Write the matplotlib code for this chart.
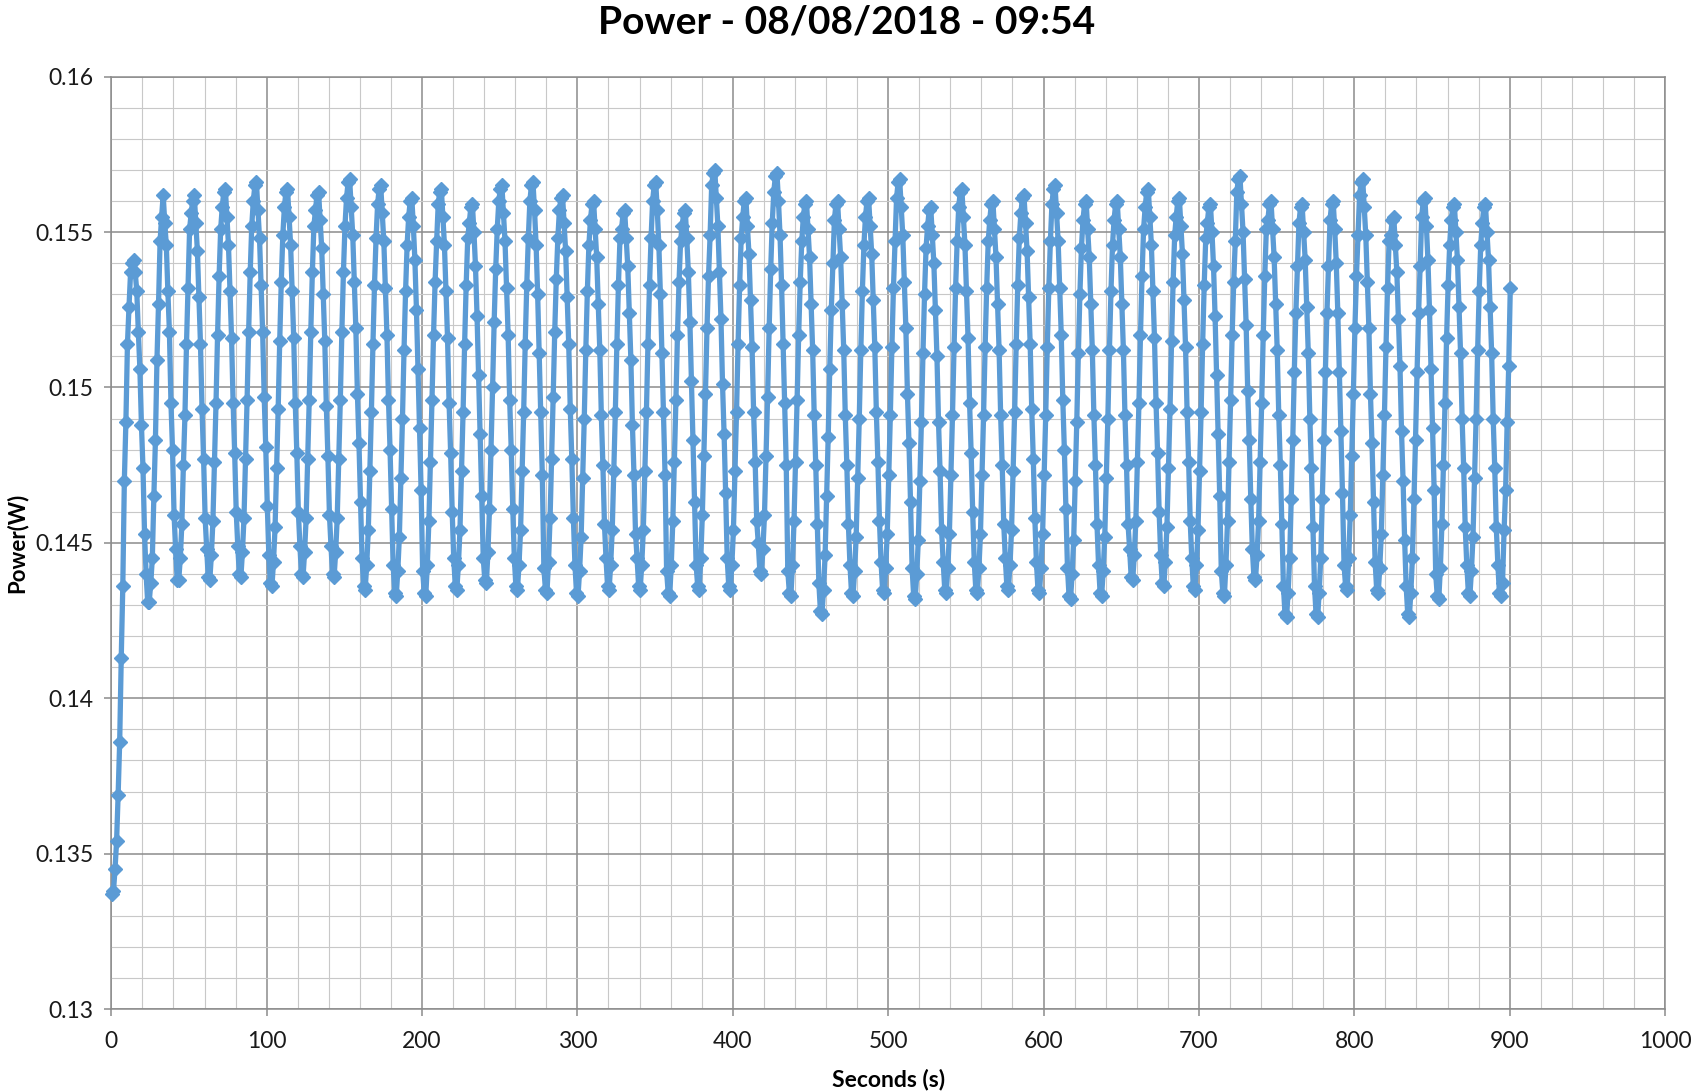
import numpy as np
import matplotlib
matplotlib.use("Agg")
import matplotlib.pyplot as plt
from matplotlib.ticker import MultipleLocator

# ---------------- text / axes data ----------------
title = "Power - 08/08/2018 - 09:54"
x_label = "Seconds (s)"
y_label = "Power(W)"
x_ticks = [0, 100, 200, 300, 400, 500, 600, 700, 800, 900, 1000]
y_ticks = [0.13, 0.135, 0.14, 0.145, 0.15, 0.155, 0.16]
y_tick_labels = ["0.13", "0.135", "0.14", "0.145", "0.15", "0.155", "0.16"]

# sampling of the logger (seconds)
first_sample_s = 0.4
sample_step_s = 1.0

# ---------------- power readings (W) ----------------
power_ramp = [
    0.1337, 0.1338, 0.1345, 0.1354, 0.1369, 0.1386, 0.1413, 0.1436, 0.1470, 0.1489,
    0.1514, 0.1526, 0.1537, 0.1540, 0.1541, 0.1537, 0.1531, 0.1518, 0.1506, 0.1488,
    0.1474, 0.1453, 0.1440, 0.1431, 0.1431, 0.1437, 0.1445, 0.1465, 0.1483, 0.1509,
    0.1527, 0.1547, 0.1555,
]

power_033_192 = [
    0.1562, 0.1553, 0.1546, 0.1531, 0.1518, 0.1495, 0.1480, 0.1459, 0.1448, 0.1438,
    0.1438, 0.1445, 0.1456, 0.1475, 0.1491, 0.1514, 0.1532, 0.1551, 0.1556, 0.1560,
    0.1562, 0.1553, 0.1544, 0.1529, 0.1514, 0.1493, 0.1477, 0.1458, 0.1448, 0.1439,
    0.1438, 0.1446, 0.1457, 0.1476, 0.1495, 0.1517, 0.1536, 0.1551, 0.1558, 0.1563,
    0.1564, 0.1555, 0.1546, 0.1531, 0.1516, 0.1495, 0.1479, 0.1460, 0.1449, 0.1440,
    0.1439, 0.1447, 0.1458, 0.1477, 0.1496, 0.1518, 0.1537, 0.1552, 0.1560, 0.1565,
    0.1566, 0.1557, 0.1548, 0.1533, 0.1518, 0.1497, 0.1481, 0.1462, 0.1446, 0.1437,
    0.1436, 0.1444, 0.1455, 0.1474, 0.1493, 0.1515, 0.1534, 0.1549, 0.1558, 0.1563,
    0.1564, 0.1555, 0.1546, 0.1531, 0.1516, 0.1495, 0.1479, 0.1460, 0.1449, 0.1440,
    0.1439, 0.1447, 0.1458, 0.1477, 0.1496, 0.1518, 0.1537, 0.1552, 0.1557, 0.1562,
    0.1563, 0.1554, 0.1545, 0.1530, 0.1515, 0.1494, 0.1478, 0.1459, 0.1449, 0.1440,
    0.1439, 0.1447, 0.1458, 0.1477, 0.1496, 0.1518, 0.1537, 0.1552, 0.1561, 0.1566,
    0.1567, 0.1558, 0.1549, 0.1534, 0.1519, 0.1498, 0.1482, 0.1463, 0.1445, 0.1436,
    0.1435, 0.1443, 0.1454, 0.1473, 0.1492, 0.1514, 0.1533, 0.1548, 0.1559, 0.1564,
    0.1565, 0.1556, 0.1547, 0.1532, 0.1517, 0.1496, 0.1480, 0.1461, 0.1443, 0.1434,
    0.1433, 0.1441, 0.1452, 0.1471, 0.1490, 0.1512, 0.1531, 0.1546, 0.1555, 0.1560,
]

power_193_387 = [
    0.1561, 0.1552, 0.1541, 0.1525, 0.1506, 0.1487, 0.1467, 0.1441, 0.1434, 0.1433,
    0.1443, 0.1457, 0.1476, 0.1496, 0.1517, 0.1534, 0.1547, 0.1559, 0.1563,
    0.1564, 0.1555, 0.1546, 0.1531, 0.1516, 0.1495, 0.1479, 0.1460, 0.1445, 0.1436,
    0.1435, 0.1443, 0.1454, 0.1473, 0.1492, 0.1514, 0.1533, 0.1548, 0.1553, 0.1558,
    0.1559, 0.1550, 0.1539, 0.1523, 0.1504, 0.1485, 0.1465, 0.1445, 0.1438, 0.1437,
    0.1447, 0.1461, 0.1480, 0.1500, 0.1521, 0.1538, 0.1551, 0.1560, 0.1564,
    0.1565, 0.1556, 0.1547, 0.1532, 0.1517, 0.1496, 0.1480, 0.1461, 0.1445, 0.1436,
    0.1435, 0.1443, 0.1454, 0.1473, 0.1492, 0.1514, 0.1533, 0.1548, 0.1560, 0.1565,
    0.1566, 0.1557, 0.1546, 0.1530, 0.1511, 0.1492, 0.1472, 0.1442, 0.1435, 0.1434,
    0.1444, 0.1458, 0.1477, 0.1497, 0.1518, 0.1535, 0.1548, 0.1557, 0.1561,
    0.1562, 0.1553, 0.1544, 0.1529, 0.1514, 0.1493, 0.1477, 0.1458, 0.1443, 0.1434,
    0.1433, 0.1441, 0.1452, 0.1471, 0.1490, 0.1512, 0.1531, 0.1546, 0.1554, 0.1559,
    0.1560, 0.1551, 0.1542, 0.1527, 0.1512, 0.1491, 0.1475, 0.1456, 0.1445, 0.1436,
    0.1435, 0.1443, 0.1454, 0.1473, 0.1492, 0.1514, 0.1533, 0.1548, 0.1551, 0.1556,
    0.1557, 0.1548, 0.1539, 0.1524, 0.1509, 0.1488, 0.1472, 0.1453, 0.1445, 0.1436,
    0.1435, 0.1443, 0.1454, 0.1473, 0.1492, 0.1514, 0.1533, 0.1548, 0.1560, 0.1565,
    0.1566, 0.1557, 0.1546, 0.1530, 0.1511, 0.1492, 0.1472, 0.1441, 0.1434, 0.1433,
    0.1443, 0.1457, 0.1476, 0.1496, 0.1517, 0.1534, 0.1547, 0.1552, 0.1556,
    0.1557, 0.1548, 0.1537, 0.1521, 0.1502, 0.1483, 0.1463, 0.1443, 0.1436, 0.1435,
    0.1445, 0.1459, 0.1478, 0.1498, 0.1519, 0.1536, 0.1549, 0.1565, 0.1569,
]

power_388_566 = [
    0.1570, 0.1561, 0.1552, 0.1537, 0.1522, 0.1501, 0.1485, 0.1466, 0.1445, 0.1436,
    0.1435, 0.1443, 0.1454, 0.1473, 0.1492, 0.1514, 0.1533, 0.1548, 0.1555, 0.1560,
    0.1561, 0.1552, 0.1543, 0.1528, 0.1513, 0.1492, 0.1476, 0.1457, 0.1450, 0.1441,
    0.1440, 0.1448, 0.1459, 0.1478, 0.1497, 0.1519, 0.1538, 0.1553, 0.1563, 0.1568,
    0.1569, 0.1560, 0.1549, 0.1533, 0.1514, 0.1495, 0.1475, 0.1441, 0.1434, 0.1433,
    0.1443, 0.1457, 0.1476, 0.1496, 0.1517, 0.1534, 0.1547, 0.1555, 0.1559,
    0.1560, 0.1551, 0.1542, 0.1527, 0.1512, 0.1491, 0.1475, 0.1456, 0.1437, 0.1428,
    0.1427, 0.1435, 0.1446, 0.1465, 0.1484, 0.1506, 0.1525, 0.1540, 0.1554, 0.1559,
    0.1560, 0.1551, 0.1542, 0.1527, 0.1512, 0.1491, 0.1475, 0.1456, 0.1443, 0.1434,
    0.1433, 0.1441, 0.1452, 0.1471, 0.1490, 0.1512, 0.1531, 0.1546, 0.1555, 0.1560,
    0.1561, 0.1552, 0.1543, 0.1528, 0.1513, 0.1492, 0.1476, 0.1457, 0.1444, 0.1435,
    0.1434, 0.1442, 0.1453, 0.1472, 0.1491, 0.1513, 0.1532, 0.1547, 0.1561, 0.1566,
    0.1567, 0.1558, 0.1549, 0.1534, 0.1519, 0.1498, 0.1482, 0.1463, 0.1442, 0.1433,
    0.1432, 0.1440, 0.1451, 0.1470, 0.1489, 0.1511, 0.1530, 0.1545, 0.1552, 0.1557,
    0.1558, 0.1549, 0.1540, 0.1525, 0.1510, 0.1489, 0.1473, 0.1454, 0.1444, 0.1435,
    0.1434, 0.1442, 0.1453, 0.1472, 0.1491, 0.1513, 0.1532, 0.1547, 0.1558, 0.1563,
    0.1564, 0.1555, 0.1546, 0.1531, 0.1516, 0.1495, 0.1479, 0.1460, 0.1444, 0.1435,
    0.1434, 0.1442, 0.1453, 0.1472, 0.1491, 0.1513, 0.1532, 0.1547, 0.1554, 0.1559,
]

power_567_725 = [
    0.1560, 0.1551, 0.1542, 0.1527, 0.1512, 0.1491, 0.1475, 0.1456, 0.1445, 0.1436,
    0.1435, 0.1443, 0.1454, 0.1473, 0.1492, 0.1514, 0.1533, 0.1548, 0.1556, 0.1561,
    0.1562, 0.1553, 0.1544, 0.1529, 0.1514, 0.1493, 0.1477, 0.1458, 0.1444, 0.1435,
    0.1434, 0.1442, 0.1453, 0.1472, 0.1491, 0.1513, 0.1532, 0.1547, 0.1559, 0.1564,
    0.1565, 0.1556, 0.1547, 0.1532, 0.1517, 0.1496, 0.1480, 0.1461, 0.1442, 0.1433,
    0.1432, 0.1440, 0.1451, 0.1470, 0.1489, 0.1511, 0.1530, 0.1545, 0.1554, 0.1559,
    0.1560, 0.1551, 0.1542, 0.1527, 0.1512, 0.1491, 0.1475, 0.1456, 0.1443, 0.1434,
    0.1433, 0.1441, 0.1452, 0.1471, 0.1490, 0.1512, 0.1531, 0.1546, 0.1554, 0.1559,
    0.1560, 0.1551, 0.1542, 0.1527, 0.1512, 0.1491, 0.1475, 0.1456, 0.1448, 0.1439,
    0.1438, 0.1446, 0.1457, 0.1476, 0.1495, 0.1517, 0.1536, 0.1551, 0.1558, 0.1563,
    0.1564, 0.1555, 0.1546, 0.1531, 0.1516, 0.1495, 0.1479, 0.1460, 0.1446, 0.1437,
    0.1436, 0.1444, 0.1455, 0.1474, 0.1493, 0.1515, 0.1534, 0.1549, 0.1555, 0.1560,
    0.1561, 0.1552, 0.1543, 0.1528, 0.1513, 0.1492, 0.1476, 0.1457, 0.1445, 0.1436,
    0.1435, 0.1443, 0.1454, 0.1473, 0.1492, 0.1514, 0.1533, 0.1548, 0.1553, 0.1558,
    0.1559, 0.1550, 0.1539, 0.1523, 0.1504, 0.1485, 0.1465, 0.1441, 0.1434, 0.1433,
    0.1443, 0.1457, 0.1476, 0.1496, 0.1517, 0.1534, 0.1547, 0.1563, 0.1567,
]

power_726_900 = [
    0.1568, 0.1559, 0.1550, 0.1535, 0.1520, 0.1499, 0.1483, 0.1464, 0.1448, 0.1439,
    0.1438, 0.1446, 0.1457, 0.1476, 0.1495, 0.1517, 0.1536, 0.1551, 0.1554, 0.1559,
    0.1560, 0.1551, 0.1542, 0.1527, 0.1512, 0.1491, 0.1475, 0.1456, 0.1436, 0.1427,
    0.1426, 0.1434, 0.1445, 0.1464, 0.1483, 0.1505, 0.1524, 0.1539, 0.1553, 0.1558,
    0.1559, 0.1550, 0.1541, 0.1526, 0.1511, 0.1490, 0.1474, 0.1455, 0.1436, 0.1427,
    0.1426, 0.1434, 0.1445, 0.1464, 0.1483, 0.1505, 0.1524, 0.1539, 0.1554, 0.1559,
    0.1560, 0.1551, 0.1540, 0.1524, 0.1505, 0.1486, 0.1466, 0.1443, 0.1436, 0.1435,
    0.1445, 0.1459, 0.1478, 0.1498, 0.1519, 0.1536, 0.1549, 0.1562, 0.1566,
    0.1567, 0.1558, 0.1549, 0.1534, 0.1519, 0.1498, 0.1482, 0.1463, 0.1444, 0.1435,
    0.1434, 0.1442, 0.1453, 0.1472, 0.1491, 0.1513, 0.1532, 0.1547, 0.1549, 0.1554,
    0.1555, 0.1546, 0.1537, 0.1522, 0.1507, 0.1486, 0.1470, 0.1451, 0.1436, 0.1427,
    0.1426, 0.1434, 0.1445, 0.1464, 0.1483, 0.1505, 0.1524, 0.1539, 0.1555, 0.1560,
    0.1561, 0.1552, 0.1541, 0.1525, 0.1506, 0.1487, 0.1467, 0.1440, 0.1433, 0.1432,
    0.1442, 0.1456, 0.1475, 0.1495, 0.1516, 0.1533, 0.1546, 0.1554, 0.1558,
    0.1559, 0.1550, 0.1541, 0.1526, 0.1511, 0.1490, 0.1474, 0.1455, 0.1443, 0.1434,
    0.1433, 0.1441, 0.1452, 0.1471, 0.1490, 0.1512, 0.1531, 0.1546, 0.1553, 0.1558,
    0.1559, 0.1550, 0.1541, 0.1526, 0.1511, 0.1490, 0.1474, 0.1455, 0.1443, 0.1434,
    0.1433, 0.1437, 0.1454, 0.1467, 0.1489, 0.1507, 0.1532,
]

power = np.concatenate([power_ramp, power_033_192, power_193_387,
                        power_388_566, power_567_725, power_726_900])
seconds = first_sample_s + sample_step_s * np.arange(len(power))

# ---------------- styling ----------------
plt.rcParams['font.family'] = ['Lato', 'DejaVu Sans']
line_color = '#5B9BD5'
major_grid = '#8C8C8C'
minor_grid = '#C8C8C8'

fig = plt.figure(figsize=(16.94, 10.91), dpi=100)
ax = fig.add_axes([0.0657, 0.0751, 0.9172, 0.8546])

ax.plot(seconds, power, color=line_color, linewidth=3.8, marker='D',
        markersize=7, markerfacecolor=line_color, markeredgecolor=line_color,
        markeredgewidth=1.0, zorder=3, clip_on=False)

ax.set_xlim(0, 1000)
ax.set_ylim(0.13, 0.16)
ax.set_xticks(x_ticks)
ax.set_xticklabels([str(t) for t in x_ticks])
ax.set_yticks(y_ticks)
ax.set_yticklabels(y_tick_labels)
ax.xaxis.set_minor_locator(MultipleLocator(20))
ax.yaxis.set_minor_locator(MultipleLocator(0.001))

ax.grid(which='major', color=major_grid, linewidth=1.1, zorder=1)
ax.grid(which='minor', color=minor_grid, linewidth=0.8, zorder=0)
ax.set_axisbelow(True)

for s in ax.spines.values():
    s.set_color(major_grid)
    s.set_linewidth(1.1)

ax.tick_params(axis='both', which='major', length=5, width=1.1, color=major_grid,
               labelsize=16.5, labelcolor='#1a1a1a', pad=8)
ax.tick_params(axis='x', which='major', pad=11)
ax.tick_params(axis='both', which='minor', length=0)

ax.set_xlabel(x_label, fontsize=16.5, fontweight='bold', labelpad=12)
ax.set_ylabel(y_label, fontsize=16, fontweight='bold', va='center')
ax.yaxis.set_label_coords(-0.061, 0.5)
fig.text(0.5, 1 - 22 / 1091, title, fontsize=28, fontweight='bold',
         ha='center', va='center')

fig.savefig('out.png', dpi=100)
